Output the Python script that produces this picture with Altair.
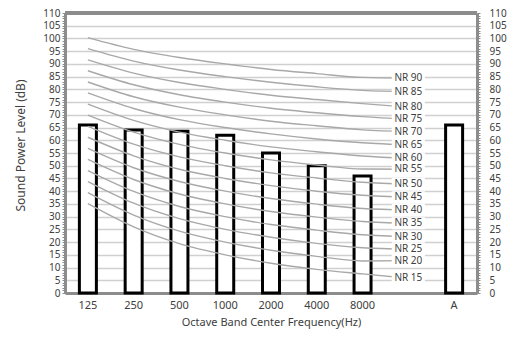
import altair as alt
import pandas as pd

# ---- data ----
categories = ["125", "250", "500", "1000", "2000", "4000", "8000", " ", "A"]
bar_categories = ["125", "250", "500", "1000", "2000", "4000", "8000", "A"]
bar_values = [66, 64, 63.5, 62, 55, 50, 46, 66]

band_categories = ["125", "250", "500", "1000", "2000", "4000", "8000"]
nr_levels = [15, 20, 25, 30, 35, 40, 45, 50, 55, 60, 65, 70, 75, 80, 85, 90]
nr_curves = {
    15: [35.1, 26.0, 19.4, 15, 11.7, 9.3, 7.5],
    20: [39.4, 30.6, 24.3, 20, 16.8, 14.4, 12.6],
    25: [43.8, 35.3, 29.2, 25, 21.9, 19.5, 17.8],
    30: [48.1, 39.9, 34.0, 30, 26.9, 24.7, 22.9],
    35: [52.5, 44.6, 38.9, 35, 32.0, 29.8, 28.1],
    40: [56.8, 49.2, 43.8, 40, 37.1, 34.9, 33.2],
    45: [61.2, 53.9, 48.6, 45, 42.2, 40.0, 38.4],
    50: [65.5, 58.5, 53.5, 50, 47.2, 45.2, 43.5],
    55: [69.9, 63.2, 58.4, 55, 52.3, 50.3, 48.7],
    60: [74.2, 67.8, 63.2, 60, 57.4, 55.5, 53.8],
    65: [78.6, 72.5, 68.1, 65, 62.5, 60.5, 59.0],
    70: [82.9, 77.1, 73.0, 70, 67.5, 65.7, 64.1],
    75: [87.3, 81.8, 77.9, 75, 72.6, 70.8, 69.3],
    80: [91.6, 86.4, 82.7, 80, 77.7, 76.0, 74.4],
    85: [96.0, 91.1, 87.6, 85, 82.8, 81.0, 79.6],
    90: [100.3, 95.7, 92.5, 90, 87.8, 86.2, 84.7],
}
label_category = " "
label_values = [5.8, 12.7, 17.2, 22.1, 27.4, 32.6, 37.6, 42.8,
                48.6, 52.9, 58.1, 63.4, 68.3, 73.0, 79.1, 84.4]

y_ticks = list(range(0, 111))

# ---- tables ----
bars_df = pd.DataFrame({"cat": bar_categories, "v": bar_values})
rows = []
for lvl, lab in zip(nr_levels, label_values):
    for i, (c, v) in enumerate(zip(band_categories, nr_curves[lvl])):
        rows.append({"nr": lvl, "cat": c, "v": v, "idx": i})
    rows.append({"nr": lvl, "cat": label_category, "v": lab, "idx": len(band_categories)})
lines_df = pd.DataFrame(rows)
labels_df = pd.DataFrame({"cat": [label_category] * len(nr_levels),
                          "v": label_values,
                          "txt": [f"NR {n}" for n in nr_levels]})

FONT = "Noto Sans"
TXT = "#404040"
FRAME = "#8c8c8c"

xscale = alt.Scale(domain=categories, paddingInner=0, paddingOuter=0)
yscale = alt.Scale(domain=[0, 110], nice=False, zero=True)

grid_cond = {"condition": {"test": "datum.value % 5 == 0", "value": 1}, "value": 0}
label_expr = "datum.value % 5 == 0 ? datum.label : ''"

left_axis = alt.Axis(values=y_ticks, labelExpr=label_expr, labelOverlap=False,
                     tickSize=3, tickColor=FRAME, tickWidth=1,
                     domain=True, domainColor=FRAME, domainWidth=3,
                     grid=True, gridColor="#d0d0d0", gridWidth=1.5,
                     gridOpacity=grid_cond, labelPadding=2, labelFontSize=10,
                     labelColor=TXT, labelFont=FONT,
                     title="Sound Power Level (dB)", titleFont=FONT,
                     titleFontSize=12, titleFontWeight="normal", titleColor=TXT,
                     titleX=-45, titleY=132, titleAngle=270,
                     titleBaseline="middle", titleAlign="center", orient="left")
right_axis = alt.Axis(values=y_ticks, labelExpr=label_expr, labelOverlap=False,
                      tickSize=3, tickColor=FRAME, tickWidth=1,
                      domain=True, domainColor=FRAME, domainWidth=3,
                      grid=False, labelPadding=9, labelFontSize=10,
                      labelColor=TXT, labelFont=FONT, title=None, orient="right")
x_axis = alt.Axis(domain=True, domainColor=FRAME, domainWidth=3, ticks=False,
                  labelAngle=0, labelPadding=6,
                  labelFontSize=11, labelColor=TXT, labelFont=FONT,
                  title="Octave Band Center Frequency(Hz)", titleFont=FONT,
                  titleFontSize=11, titleFontWeight="normal", titleColor=TXT,
                  titlePadding=6)

X = alt.X("cat:N", scale=xscale, sort=categories, axis=x_axis)
Xc = alt.X("cat:N", scale=xscale, sort=categories, axis=x_axis, bandPosition=0.5)

bars = alt.Chart(bars_df).mark_bar(fill="white", stroke="black", strokeWidth=3,
                                   width=17).encode(
    x=X,
    y=alt.Y("v:Q", scale=yscale, axis=left_axis),
)

lines = alt.Chart(lines_df).mark_line(color="#a8a8a8", strokeWidth=1.4,
                                      interpolate="monotone").encode(
    x=Xc,
    y=alt.Y("v:Q", scale=yscale, axis=right_axis),
    detail="nr:N",
    order="idx:Q",
)

boxes = alt.Chart(labels_df).mark_point(
    shape="M-1,-0.36H1V0.36H-1Z", filled=True, fill="white", opacity=1,
    strokeWidth=0, size=1100).encode(
    x=Xc,
    y=alt.Y("v:Q", scale=yscale, axis=None),
)

texts = alt.Chart(labels_df).mark_text(font=FONT, fontSize=10, color=TXT,
                                       align="center", baseline="middle").encode(
    x=Xc,
    y=alt.Y("v:Q", scale=yscale, axis=None),
    text="txt:N",
)

top_line = alt.Chart(labels_df).mark_rule(color=FRAME, strokeWidth=3).encode(
    x=alt.value(0), x2=alt.value(412), y=alt.value(0)
)

chart = alt.layer(bars, lines, boxes, texts, top_line).resolve_axis(
    y="independent"
).resolve_scale(y="shared").properties(
    width=412, height=280,
    autosize=alt.AutoSizeParams(type="none"),
    padding={"left": 57, "top": 5, "right": 30, "bottom": 36},
).configure_view(stroke=None).configure(background="white")

chart.save("out.html", embed_options={"renderer": "svg", "actions": False})
